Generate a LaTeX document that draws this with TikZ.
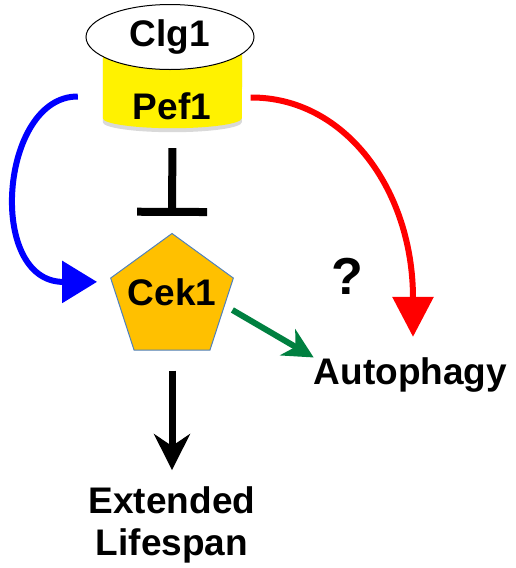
\documentclass[tikz,border=0pt]{standalone}
\usepackage{fontspec}
\setmainfont{Liberation Sans}
\usetikzlibrary{
    arrows.meta,
    shapes.geometric
}
\definecolor{cekfill}{RGB}{255,192,0}
\definecolor{cekline}{RGB}{79,129,189}
\definecolor{actgreen}{RGB}{0,128,64}
\tikzset{
    lbl/.style={font=\fontsize{37}{42}\selectfont\bfseries, inner sep=0pt},
    fat/.style={line width=6pt},
}

\begin{document}
\begin{tikzpicture}[x=1pt,y=-1pt]
        \useasboundingbox (0,0) rectangle (516,568);

        \draw (172.5,86.5) node[minimum width=139, minimum height=63, inner sep=0pt](body){};
        \fill[black!25, opacity=0.6] ([yshift=-4pt]body.north west) -- ([yshift=-4pt]body.south west)
            arc[start angle=180, end angle=360, x radius=69.5pt, y radius=10pt] -- (body.north east) -- cycle;
        \fill[yellow] (body.north west) -- (body.south west)
            arc[start angle=180, end angle=360, x radius=69.5pt, y radius=10pt] -- (body.north east) -- cycle;
        \draw (170,37) node[ellipse, draw, fill=white, line width=1pt, minimum width=168, minimum height=65, lbl](clg){Clg1};
        \draw (172,106) node[lbl](pef){Pef1};
        \draw (172,298) node[regular polygon, regular polygon sides=5, minimum size=129, inner sep=0pt,
            fill=cekfill, draw=cekline, line width=1pt](cek){};
        \draw (172,292) node[lbl](cektxt){Cek1};
        \draw (347,276) node[font=\fontsize{52}{60}\selectfont\bfseries, inner sep=0pt](q){?};
        \draw (410.5,375) node[lbl](auto){Autophagy};
        \draw (172,524.5) node[lbl, align=center](life){Extended\\Lifespan};

        \draw[fat, blue, -{Triangle[length=35pt,width=41pt]}] ([shift={(-25,10)}]body.west)
            .. controls (0,96) and (-14,282) .. ([shift={(-13,4)}]cek.corner 2);
        \draw[fat, red, -{Triangle[length=40pt,width=40pt]}] ([shift={(8.5,11)}]body.east)
            .. controls (345,97) and (413,190) .. ([shift={(2.5,-20.6)}]auto.north);
        \draw[line width=8pt, -{Bar[width=70pt]}, shorten <=30pt, shorten >=17pt] (body.south) to (cek.north);
        \draw[line width=7pt, -{Stealth[length=36pt,width=36pt,inset=12pt]}, shorten <=20pt, shorten >=16pt] (cek.south) to (life.north);
        \draw[fat, actgreen, -{Stealth[length=30pt,width=30pt,inset=9pt]}] ([shift={(5,12)}]cek.east) to (auto.north west);
    \end{tikzpicture}
\end{document}
